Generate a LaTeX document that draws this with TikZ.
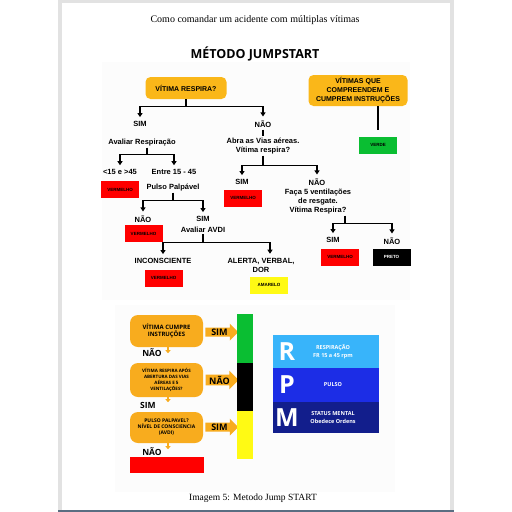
\documentclass[tikz,border=0pt]{standalone}
\usepackage{fontspec}
\setmainfont{Liberation Serif}
\newfontfamily\fcfont{Liberation Sans}
\newfontfamily\osfont{Open Sans}
\usetikzlibrary{arrows.meta,shapes.arrows}

\definecolor{jorange}{RGB}{250,183,25}
\definecolor{borange}{RGB}{248,172,30}
\definecolor{vermelho}{RGB}{255,0,0}
\definecolor{verde}{RGB}{10,190,50}
\definecolor{amarelo}{RGB}{255,250,20}
\definecolor{rlight}{RGB}{56,180,250}
\definecolor{rmid}{RGB}{28,45,230}
\definecolor{rdark}{RGB}{18,30,140}
\definecolor{frame}{RGB}{226,226,226}
\definecolor{slate}{RGB}{90,110,130}
\definecolor{fundo}{RGB}{252,252,252}

\begin{document}
\begin{tikzpicture}[x=1pt, y=-1pt,
    lbl/.style = {font=\fcfont\bfseries\fontsize{7.5}{9}\selectfont, align=center, inner sep=1pt},
    qbox/.style = {fill=jorange, rounded corners=5pt, align=center, inner sep=2pt,
                   font=\fcfont\bfseries\fontsize{7}{9}\selectfont},
    tag/.style = {minimum width=38pt, minimum height=17pt, inner sep=0pt,
                  font=\fcfont\bfseries\fontsize{4.5}{5}\selectfont},
    ln/.style = {line width=1.3pt},
    arr/.style = {ln, -{Triangle[length=4pt,width=5pt]}, shorten >=3pt},
    bbox/.style = {fill=borange, rounded corners=8pt, minimum width=73pt, align=center,
                   inner sep=1pt, font=\osfont\bfseries\fontsize{5}{6}\selectfont},
    barrow/.style = {single arrow, fill=borange, single arrow head extend=4pt,
                     minimum height=33pt, inner sep=1pt, font=\osfont\bfseries\fontsize{9}{9}\selectfont},
    blbl/.style = {font=\osfont\bfseries\fontsize{8.5}{9}\selectfont, inner sep=0pt},
    tab/.style = {borange, line width=2pt, -{Triangle[length=3pt,width=5pt]}},
    rtxt/.style = {text=white, align=center, font=\osfont\bfseries\fontsize{5.5}{7.5}\selectfont},
    rletter/.style = {text=white, font=\osfont\bfseries\fontsize{25}{25}\selectfont}
]
\useasboundingbox (0,0) rectangle (512,512);

% page
\fill[white] (0,0) rectangle (512,512);
\fill[frame] (58,0) rectangle (61.5,512);
\fill[frame] (450,0) rectangle (454,512);
\fill[frame] (58,0) rectangle (454,2.5);
\fill[slate] (58,509.5) rectangle (454,512);
\fill[fundo] (102,62) rectangle (410,300);
\fill[fundo] (115,305) rectangle (395,492);

\node[font=\fontsize{10}{11}\selectfont] (head) at (255,20) {Como comandar um acidente com múltiplas vítimas};
\node[font=\osfont\bfseries\fontsize{12.5}{13}\selectfont] (titulo) at (255,54) {MÉTODO JUMPSTART};
\node[font=\fontsize{9.5}{10}\selectfont] (legenda) at (253,498) {Imagem 5: Metodo Jump START};

% fluxograma
\node[qbox, minimum width=81pt, minimum height=22pt] (resp) at (186,88) {VÍTIMA RESPIRA?};
\node[qbox, minimum width=99pt, minimum height=31pt] (comp) at (358,90.5) {VÍTIMAS QUE\\COMPREENDEM E\\CUMPREM INSTRUÇÕES};
\node[tag, fill=verde] (verde) at (378,145) {VERDE};
\draw[ln, shorten >=6pt] (comp.south -| verde.north) -- (verde.north);

\node[lbl] (sim1) at (140,124) {SIM};
\node[lbl] (nao1) at (263,124) {NÃO};
\draw[ln] (resp.south) -- ++(0,7) coordinate (j1);
\draw[arr] (j1) -| (sim1.north);
\draw[arr] (j1) -| (nao1.north);

\node[lbl] (avresp) at (142,143) {Avaliar Respiração};
\node[lbl] (menor) at (120,172) {<15 e >45};
\node[lbl] (entre) at (174,172) {Entre 15 - 45};
\draw[ln] ([xshift=5pt]avresp.south) -- ++(0,7) coordinate (j2);
\draw[arr] (j2) -| (menor.north);
\draw[arr] (j2) -| (entre.north);
\node[tag, fill=vermelho] (v1) at (120,189.5) {VERMELHO};

\node[lbl] (pulso) at (173,188) {Pulso Palpável};
\node[lbl] (nao2) at (143,219) {NÃO};
\node[lbl] (sim2) at (203,219) {SIM};
\draw[ln] (pulso.south) -- ++(0,7.5) coordinate (j3);
\draw[arr] (j3) -| (nao2.north);
\draw[arr] (j3) -| (sim2.north);
\node[tag, fill=vermelho] (v2) at (143.5,233.5) {VERMELHO};

\node[lbl] (avdi) at (203,230) {Avaliar AVDI};
\node[lbl] (incon) at (163,261) {INCONSCIENTE};
\node[lbl] (alerta) at (261,265) {ALERTA, VERBAL,\\DOR};
\draw[ln] (avdi.south) -- ++(0,8.5) coordinate (j4);
\draw[arr] (j4) -| (incon.north);
\draw[arr] (j4) -| ([xshift=9pt]alerta.north);
\node[tag, fill=vermelho] (v3) at (163.5,278) {VERMELHO};
\node[tag, fill=amarelo] (amar) at (269,285) {AMARELO};

\node[lbl] (abra) at (263,146.5) {Abra as Vias aéreas.\\Vítima respira?};
\draw[ln, shorten <=1pt, shorten >=1pt] (nao1.south) -- (abra.north);
\node[lbl] (sim3) at (242,182) {SIM};
\node[lbl] (nao3) at (317,182) {NÃO};
\draw[ln] (abra.south) -- ++(0,9.5) coordinate (j5);
\draw[arr] (j5) -| (sim3.north);
\draw[arr] (j5) -| (nao3.north);
\node[tag, fill=vermelho] (v4) at (243,198) {VERMELHO};

\node[lbl] (faca) at (318,202) {Faça 5 ventilações\\de resgate.\\Vítima Respira?};
\node[lbl] (sim4) at (333,240) {SIM};
\node[lbl] (nao4) at (392,241) {NÃO};
\draw[ln] ([xshift=27pt]faca.south) -- ++(0,8) coordinate (j6);
\draw[arr] (j6) -| (sim4.north);
\draw[arr] (j6) -| (nao4.north);
\node[tag, fill=vermelho] (v5) at (340,257) {VERMELHO};
\node[tag, fill=black, text=white] (preto) at (391.5,257) {PRETO};

% quadro inferior
\node[bbox, minimum height=32pt, font=\osfont\bfseries\fontsize{6}{7.5}\selectfont] (b1) at (166.5,331) {VÍTIMA CUMPRE\\INSTRUÇÕES};
\node[bbox, minimum height=34pt, font=\osfont\bfseries\fontsize{4.5}{6}\selectfont] (b2) at (166.5,380) {VÍTIMA RESPIRA APÓS\\ABERTURA DAS VIAS\\AÉREAS E 5\\VENTILAÇÕES?};
\node[bbox, minimum height=31pt] (b3) at (166.5,427.5) {PULSO PALPAVEL?\\NÍVEL DE CONSCIENCIA\\(AVDI)};
\node[barrow] (a1) at (219.5,332) {SIM};
\node[barrow] (a2) at (219.5,380) {NÃO};
\node[barrow] (a3) at (219.5,427) {SIM};
\draw[tab] ([xshift=1.5pt]b1.south) -- ++(0,6);
\draw[tab] ([xshift=1.5pt]b2.south) -- ++(0,5);
\draw[tab] ([xshift=1.5pt]b3.south) -- ++(0,6);
\node[blbl] (n1) at (152,353) {NÃO};
\node[blbl] (s1) at (148,405) {SIM};
\node[blbl] (n2) at (152,452) {NÃO};
\fill[vermelho] (130,457) rectangle (204,473);

\fill[verde] (237,314) rectangle (253,363);
\fill[black] (237,363) rectangle (253,411);
\fill[amarelo] (237,411) rectangle (253,459);

% RPM
\fill[rlight] (273,335) rectangle (379,368);
\fill[rmid] (273,368) rectangle (379,402);
\fill[rdark] (273,402) rectangle (379,433);
\node[rletter] (r) at (287,351.5) {R};
\node[rletter] (p) at (287,385) {P};
\node[rletter] (m) at (287,417.5) {M};
\node[rtxt] (rt) at (333,351.5) {RESPIRAÇÃO\\FR 15 a 45 rpm};
\node[rtxt] (pt) at (333,385) {PULSO};
\node[rtxt] (mt) at (333,417.5) {STATUS MENTAL\\Obedece Ordens};
\end{tikzpicture}
\end{document}
